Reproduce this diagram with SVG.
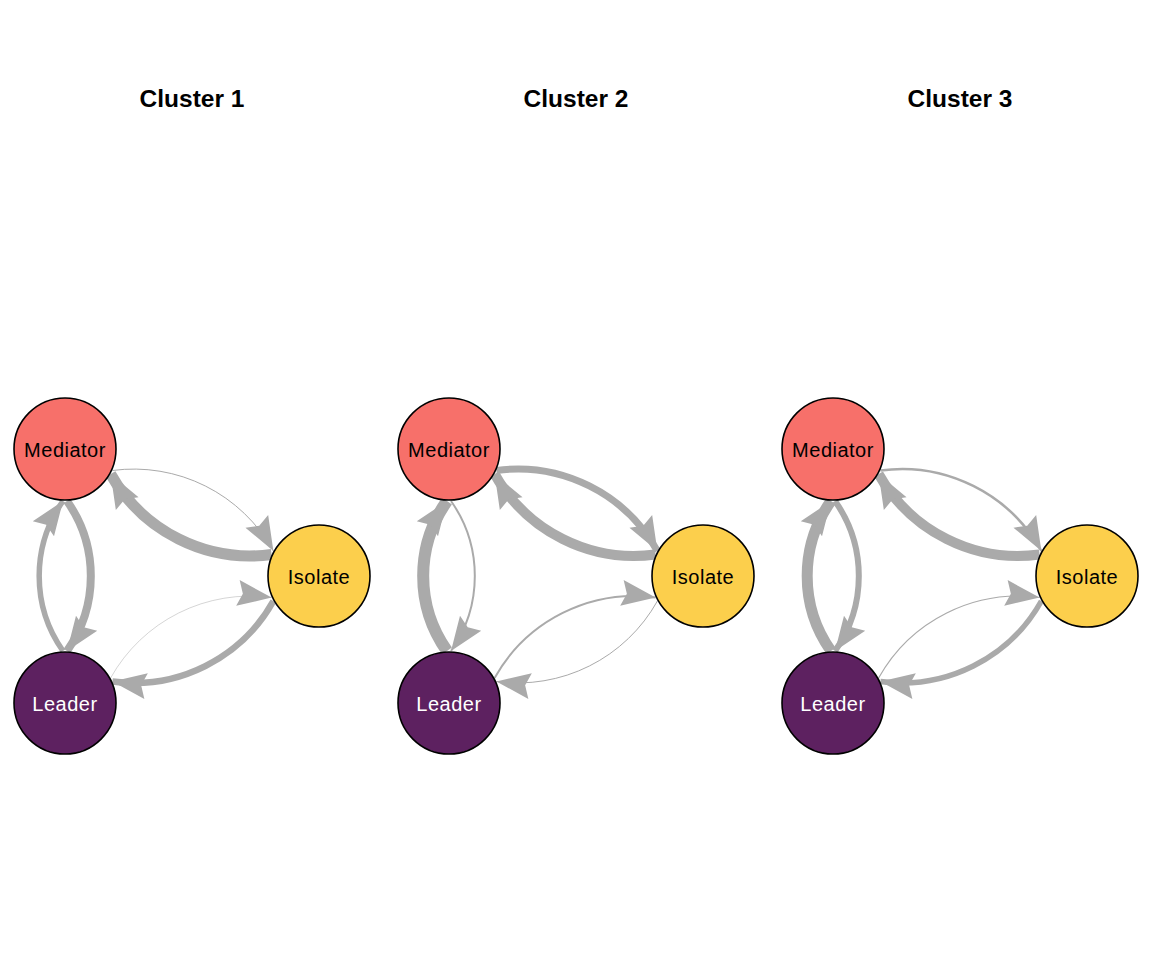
<svg xmlns="http://www.w3.org/2000/svg" width="1152" height="960" viewBox="0 0 1152 960">
<style>
.title{font-family:"Liberation Sans",Arial,sans-serif;font-weight:bold;font-size:24.5px;text-anchor:middle;fill:#000}
.lbl{font-family:"Liberation Sans",Arial,sans-serif;font-size:20px;letter-spacing:0.5px;text-anchor:middle}
.e{fill:none;stroke:#aaaaaa;marker-end:url(#arr)}
.nd{stroke:#000;stroke-width:1.6}
.med{fill:#f7706a}
.iso{fill:#fccf4c}
.lea{fill:#5d2160}
</style>
<defs>
<marker id="arr" markerUnits="userSpaceOnUse" markerWidth="40" markerHeight="30" refX="34" refY="13" orient="auto" overflow="visible">
<path d="M0,0 L34,13 L0,26 L5,13 Z" fill="#aaaaaa"/>
</marker>
</defs>
<rect width="1152" height="960" fill="#fff"/>
<g id="titles">
<text class="title" x="192" y="106.5">Cluster 1</text>
<text class="title" x="576" y="106.5">Cluster 2</text>
<text class="title" x="960" y="106.5">Cluster 3</text>
</g>
<g id="connectors">
<g id="edges-c1">
<path class="e" stroke-width="8" d="M67,501 A130,130 0 0 1 67,651"/>
<path class="e" stroke-width="5.5" d="M63,651 A130,130 0 0 1 63,501"/>
<path class="e" stroke-width="1" d="M112.4,470.5 A160,160 0 0 1 273.4,551"/>
<path class="e" stroke-width="11" d="M271.6,554.5 A160,160 0 0 1 110.6,474"/>
<path class="e" stroke-width="0.5" d="M110.6,678 A160,160 0 0 1 271.6,597.5"/>
<path class="e" stroke-width="6.5" d="M273.4,601 A160,160 0 0 1 112.4,681.5"/>
</g>
<g id="edges-c2" transform="translate(384,0)">
<path class="e" stroke-width="2" d="M67,501 A130,130 0 0 1 67,651"/>
<path class="e" stroke-width="12" d="M63,651 A130,130 0 0 1 63,501"/>
<path class="e" stroke-width="7" d="M112.4,470.5 A160,160 0 0 1 273.4,551"/>
<path class="e" stroke-width="10" d="M271.6,554.5 A160,160 0 0 1 110.6,474"/>
<path class="e" stroke-width="2" d="M110.6,678 A160,160 0 0 1 271.6,597.5"/>
<path class="e" stroke-width="1" d="M273.4,601 A160,160 0 0 1 112.4,681.5"/>
</g>
<g id="edges-c3" transform="translate(768,0)">
<path class="e" stroke-width="6" d="M67,501 A130,130 0 0 1 67,651"/>
<path class="e" stroke-width="11" d="M63,651 A130,130 0 0 1 63,501"/>
<path class="e" stroke-width="2.5" d="M112.4,470.5 A160,160 0 0 1 273.4,551"/>
<path class="e" stroke-width="10" d="M271.6,554.5 A160,160 0 0 1 110.6,474"/>
<path class="e" stroke-width="1.2" d="M110.6,678 A160,160 0 0 1 271.6,597.5"/>
<path class="e" stroke-width="5.5" d="M273.4,601 A160,160 0 0 1 112.4,681.5"/>
</g>
</g>
<g id="c1-mediator"><circle class="nd med" cx="65" cy="449" r="51"/><text class="lbl" x="65" y="456.5" fill="#000">Mediator</text></g>
<g id="c1-isolate"><circle class="nd iso" cx="319" cy="576" r="51"/><text class="lbl" x="319" y="583.5" fill="#000">Isolate</text></g>
<g id="c1-leader"><circle class="nd lea" cx="65" cy="703" r="51"/><text class="lbl" x="65" y="710.5" fill="#fff">Leader</text></g>
<g id="c2-mediator"><circle class="nd med" cx="449" cy="449" r="51"/><text class="lbl" x="449" y="456.5" fill="#000">Mediator</text></g>
<g id="c2-isolate"><circle class="nd iso" cx="703" cy="576" r="51"/><text class="lbl" x="703" y="583.5" fill="#000">Isolate</text></g>
<g id="c2-leader"><circle class="nd lea" cx="449" cy="703" r="51"/><text class="lbl" x="449" y="710.5" fill="#fff">Leader</text></g>
<g id="c3-mediator"><circle class="nd med" cx="833" cy="449" r="51"/><text class="lbl" x="833" y="456.5" fill="#000">Mediator</text></g>
<g id="c3-isolate"><circle class="nd iso" cx="1087" cy="576" r="51"/><text class="lbl" x="1087" y="583.5" fill="#000">Isolate</text></g>
<g id="c3-leader"><circle class="nd lea" cx="833" cy="703" r="51"/><text class="lbl" x="833" y="710.5" fill="#fff">Leader</text></g>
</svg>
